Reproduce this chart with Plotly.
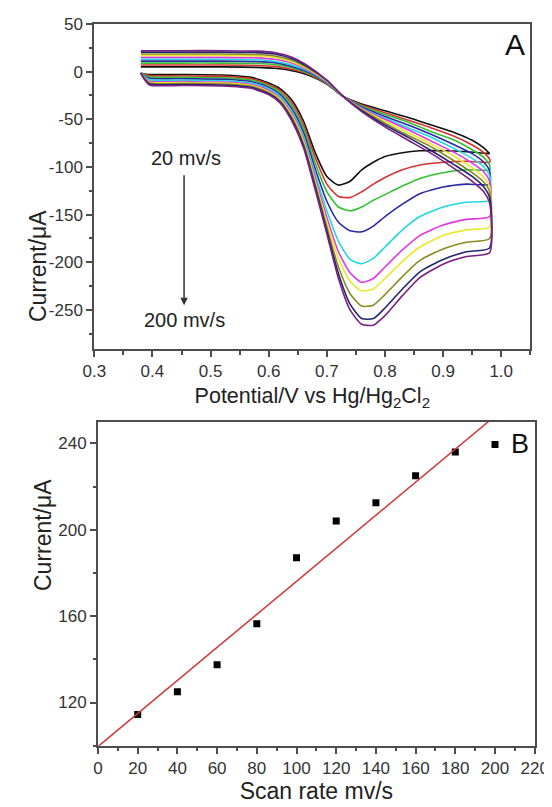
import plotly.graph_objects as go
import numpy as np

# ---------------- Panel A data (cyclic voltammograms) ----------------
scan_rates = [20, 40, 60, 80, 100, 120, 140, 160, 180, 200]
curve_colors = ["#111111", "#d93030", "#33c033", "#2a2aa8", "#22d8e0",
                "#e038e0", "#e8e830", "#8a8a20", "#252575", "#7a2080"]

# forward branch (potential increasing 0.38 -> 0.98)
E_forward = [0.38, 0.385, 0.395, 0.45, 0.52, 0.57, 0.60, 0.62, 0.64, 0.66, 0.68,
             0.70, 0.72, 0.74, 0.76, 0.78, 0.80, 0.83, 0.86, 0.90, 0.94, 0.98]
fwd_20 = [-1, -2.5, -3, -3, -3.5, -6, -12, -18, -30, -52, -85, -110, -119, -115, -103, -95, -89, -85, -83, -83, -84, -86]
fwd_40 = [-1, -3, -4.2, -4.5, -5, -7.5, -13.5, -20, -33, -56, -90, -118, -131, -132, -126, -118, -111, -103, -98, -95, -94, -95]
fwd_60 = [-1, -3.5, -5.5, -6, -6.5, -9, -15, -22, -36, -60, -96, -126, -142, -146, -142, -135, -129, -120, -112, -106, -103, -103]
fwd_80 = [-1, -4, -7, -7.5, -8, -10.5, -16.5, -24, -39, -64, -102, -136, -158, -167, -168, -162, -152, -139, -128, -121, -118, -118]
fwd_100 = [-1, -4.5, -8.5, -9, -9.5, -12, -18, -26, -42, -68, -108, -146, -178, -197, -201.5, -196, -184, -166, -152, -142, -137, -135]
fwd_120 = [-1.5, -5, -10, -10.5, -11, -13.5, -19.5, -28, -44, -71, -112, -153, -189, -211, -221, -217, -205, -187, -172, -161, -155, -152]
fwd_140 = [-1.5, -5.5, -11, -11.5, -12, -14.5, -21, -29, -46, -73, -115, -158, -196, -220, -230, -228, -217, -199, -184, -172, -166, -163]
fwd_160 = [-1.5, -6, -12, -12.5, -13, -15.5, -22, -30.5, -48, -76, -118, -163, -205, -233, -246, -245, -234, -215, -198, -186, -179, -175]
fwd_180 = [-1.5, -6.5, -13, -13.5, -14, -16.5, -23, -32, -50, -78, -121, -167, -212, -244, -259, -259, -248, -228, -210, -197, -189, -185]
fwd_200 = [-1.5, -7, -14, -14.5, -15, -17.5, -24, -33, -52, -80, -124, -170, -217, -250, -265, -266, -256, -235, -216, -202, -194, -190]

# reverse branch (potential decreasing 0.98 -> 0.38)
E_reverse = [0.98, 0.97, 0.95, 0.92, 0.88, 0.84, 0.80, 0.76, 0.728, 0.70, 0.67,
             0.64, 0.61, 0.58, 0.52, 0.45, 0.38]
rev_20 = [-86, -80, -72, -64, -56, -48, -41, -34, -26, -13, -4, 1, 3.5, 4.5, 5, 5, 5]
rev_40 = [-92, -85, -77, -68, -59, -51, -43, -35, -26, -12.5, -3, 2.5, 5.5, 6.5, 7, 7, 7]
rev_60 = [-98, -90, -82, -72, -63, -53, -45, -36, -26, -12, -2, 4, 7.5, 8.5, 9, 9, 9]
rev_80 = [-104, -95, -86, -77, -66, -56, -47, -37, -26, -11.5, -1, 5.5, 9.5, 10.5, 11, 11, 11]
rev_100 = [-109, -100, -91, -81, -69, -59, -49, -38, -26, -11, 0, 7, 11, 12.5, 13, 13, 13]
rev_120 = [-115, -105, -96, -85, -73, -61, -50, -38.5, -26, -10.5, 1, 9, 13, 14.5, 15, 15, 15]
rev_140 = [-121, -111, -101, -89, -76, -64, -52, -39.5, -26, -10, 2, 10.5, 15, 16.5, 17, 17, 17]
rev_160 = [-126, -116, -106, -94, -79, -67, -54, -40, -26, -9.5, 3, 12, 16.5, 18, 18.5, 18.5, 18.5]
rev_180 = [-132, -121, -110, -98, -83, -69, -56, -41, -26, -9, 4, 13.5, 18.5, 20, 20.5, 20.5, 20.5]
rev_200 = [-138, -126, -115, -102, -86, -72, -58, -42, -26, -9, 5, 15, 20, 21.5, 22, 22, 22]

forward_sets = [fwd_20, fwd_40, fwd_60, fwd_80, fwd_100, fwd_120, fwd_140, fwd_160, fwd_180, fwd_200]
reverse_sets = [rev_20, rev_40, rev_60, rev_80, rev_100, rev_120, rev_140, rev_160, rev_180, rev_200]

yticks_a = [-250, -200, -150, -100, -50, 0, 50]
xticks_a = [0.3, 0.4, 0.5, 0.6, 0.7, 0.8, 0.9, 1.0]

# ---------------- Panel B data ----------------
rate_b = [20, 40, 60, 80, 100, 120, 140, 160, 180, 200]
peak_current_b = [114.5, 125, 137.5, 156.5, 187, 204, 212.5, 225, 236, 239.5]

FONT = "Arial, Liberation Sans, Helvetica, sans-serif"
AXCOL = "#4d4d4d"
TICKCOL = "#333333"
TITLECOL = "#222222"

fig = go.Figure()

for rate, col, fwd, rev in zip(scan_rates, curve_colors, forward_sets, reverse_sets):
    fig.add_trace(go.Scatter(
        x=E_forward + E_reverse, y=fwd + rev, mode="lines",
        line=dict(color=col, width=1.6, shape="spline", smoothing=0.6),
        name=f"{rate} mV/s", showlegend=False, xaxis="x", yaxis="y"))

# panel B
fig.add_trace(go.Scatter(
    x=rate_b, y=peak_current_b, mode="markers",
    marker=dict(symbol="square", size=7, color="#000000"),
    showlegend=False, xaxis="x2", yaxis="y2"))

slope, intercept = np.polyfit(rate_b, peak_current_b, 1)
fit_x = [0, 220]
fig.add_trace(go.Scatter(
    x=fit_x, y=[intercept + slope * v for v in fit_x], mode="lines",
    line=dict(color="#c83c3c", width=1.5),
    showlegend=False, xaxis="x2", yaxis="y2"))

# the page body adds an 8px offset; size the figure so it fits the 552x807 window
OFF = 8
W, H = 552 - OFF, 807 - OFF
def px_x(a, b):
    return [(a - OFF) / W, (b - OFF) / W]
def px_y(top, bottom):
    return [1 - (bottom - OFF) / H, 1 - (top - OFF) / H]
def paper_x(p):
    return (p - OFF) / W
def paper_y(p):
    return 1 - (p - OFF) / H

axis_common = dict(
    showline=True, linecolor=AXCOL, linewidth=2, mirror=True,
    ticks="outside", ticklen=6, tickwidth=1.5, tickcolor=AXCOL,
    showgrid=False, zeroline=False, automargin=False,
    tickfont=dict(family=FONT, size=17, color=TICKCOL),
)
minor_common = dict(ticks="outside", ticklen=3.5, tickwidth=1.5, tickcolor=AXCOL, showgrid=False)

fig.update_layout(
    width=W, height=H, margin=dict(l=0, r=0, t=0, b=0, autoexpand=False),
    paper_bgcolor="white", plot_bgcolor="white",
    font=dict(family=FONT, color=TITLECOL),
    xaxis=dict(domain=px_x(94.3, 530.3), anchor="y", range=[0.3, 1.05],
               tickmode="array", tickvals=xticks_a, ticktext=[f"{v:.1f}" for v in xticks_a],
               minor=dict(tickmode="linear", tick0=0.3, dtick=0.05, **minor_common),
               title=dict(text="Potential/V vs Hg/Hg<sub>2</sub>Cl<sub>2</sub>",
                          font=dict(family=FONT, size=21.5, color=TITLECOL), standoff=8),
               **axis_common),
    yaxis=dict(domain=px_y(24, 349), anchor="x", range=[-291, 50],
               tickmode="array", tickvals=yticks_a, ticktext=[str(v) for v in yticks_a],
               minor=dict(tickmode="linear", tick0=0, dtick=25, **minor_common),
               **axis_common),
    xaxis2=dict(domain=px_x(98, 534.7), anchor="y2", range=[0, 220],
                tick0=0, dtick=20, minor=dict(dtick=10, **minor_common),
                title=dict(text="Scan rate mv/s", font=dict(family=FONT, size=23, color=TITLECOL),
                           standoff=3),
                **axis_common),
    yaxis2=dict(domain=px_y(421.7, 745.7), anchor="x2", range=[100, 250],
                tick0=0, dtick=40, minor=dict(dtick=20, **minor_common),
                **axis_common),
)

# y-axis titles (placed as in the reference, slightly below the panel centres)
fig.add_annotation(x=paper_x(23), y=paper_y(208), xref="paper", yref="paper",
                   text="Current/μA", textangle=-90, showarrow=False,
                   font=dict(family=FONT, size=23, color=TITLECOL))
fig.add_annotation(x=paper_x(28), y=paper_y(593), xref="paper", yref="paper",
                   text="Current/μA", textangle=-90, showarrow=False,
                   font=dict(family=FONT, size=23, color=TITLECOL))

fig.add_annotation(x=1.024, y=28, xref="x", yref="y", text="A", showarrow=False,
                   font=dict(family=FONT, size=30, color="#111111"))
fig.add_annotation(x=212.5, y=239.6, xref="x2", yref="y2", text="B", showarrow=False,
                   font=dict(family=FONT, size=27, color="#111111"))
fig.add_annotation(x=0.458, y=-90.6, xref="x", yref="y", text="20 mv/s", showarrow=False,
                   font=dict(family=FONT, size=20, color=TITLECOL))
fig.add_annotation(x=0.455, y=-260.5, xref="x", yref="y", text="200 mv/s", showarrow=False,
                   font=dict(family=FONT, size=20, color=TITLECOL))
fig.add_annotation(x=0.4544, y=-245, ax=0.4544, ay=-107, xref="x", yref="y",
                   axref="x", ayref="y", text="", showarrow=True,
                   arrowhead=2, arrowsize=1, arrowwidth=1.5, arrowcolor="#333333")

fig.write_html("out.html")
